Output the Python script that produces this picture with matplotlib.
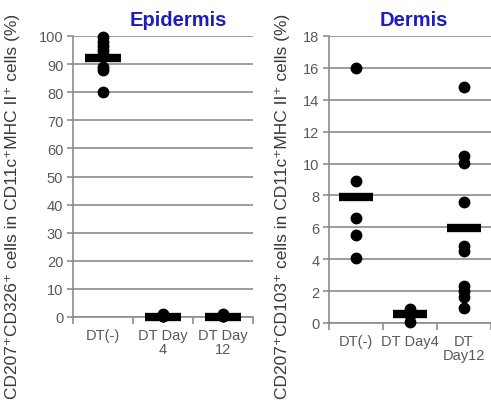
import numpy as np
import matplotlib
matplotlib.use('Agg')
import matplotlib.pyplot as plt

# Epidermis data (% CD207+CD326+)
epi_groups = ['DT(-)', 'DT Day\n4', 'DT Day\n12']
epi_points = [
    [99.5, 98, 96.5, 95, 93.5, 89, 88, 80],
    [0.2, 0.5, 1.0, 0.3],
    [0.2, 0.5, 1.0, 0.3],
]
epi_means = [92, 0, 0]

# Dermis data (% CD207+CD103+)
der_groups = ['DT(-)', 'DT Day4', 'DT\nDay12']
der_points = [
    [16.0, 8.9, 6.6, 5.5, 4.1],
    [0.9, 0.5, 0.05],
    [14.8, 10.5, 10.05, 7.6, 4.85, 4.5, 2.3, 2.0, 1.6, 0.95],
]
der_means = [7.9, 0.55, 5.95]

plt.rcParams['font.family'] = ['Liberation Sans', 'DejaVu Sans']

GRID = '#8c8c8c'
TICK = '#595959'
TITLE = '#1c1cc0'

fig = plt.figure(figsize=(4.91, 4.02), dpi=100)
ax1 = fig.add_axes([73 / 491, 1 - 318 / 402, 180 / 491, 281 / 402])
ax2 = fig.add_axes([329 / 491, 1 - 324 / 402, 162 / 491, 287 / 402])


def draw_panel(ax, groups, points, means, ymax, ystep, halfwidth):
    pos = np.arange(len(groups))
    for i, vals in enumerate(points):
        ax.plot([pos[i]] * len(vals), vals, 'o', color='black', ms=7.5,
                zorder=3, clip_on=False)
    ax.hlines(means, pos - halfwidth, pos + halfwidth, colors='black',
              lw=6, zorder=4, clip_on=False)
    ax.set_xlim(-0.5, len(groups) - 0.5)
    ax.set_ylim(0, ymax)
    ax.set_yticks(np.arange(0, ymax + ystep / 2, ystep))
    ax.set_xticks(pos)
    ax.set_xticklabels(groups, linespacing=0.95)
    ax.set_xticks(np.arange(len(groups) + 1) - 0.5, minor=True)
    ax.tick_params(axis='x', which='major', length=0, pad=8,
                   labelsize=10.5, labelcolor=TICK)
    ax.tick_params(axis='x', which='minor', length=5, color=GRID, width=1.2)
    ax.tick_params(axis='y', length=4, color=GRID, width=1.2, pad=3,
                   labelsize=10.5, labelcolor=TICK)
    ax.grid(axis='y', color=GRID, lw=1.2)
    ax.set_axisbelow(True)
    for s in ['top', 'right']:
        ax.spines[s].set_visible(False)
    for s in ['left', 'bottom']:
        ax.spines[s].set_color(GRID)
        ax.spines[s].set_linewidth(1.2)


draw_panel(ax1, epi_groups, epi_points, epi_means, 100, 10, 0.3)
draw_panel(ax2, der_groups, der_points, der_means, 18, 2, 0.32)

fig.text(178 / 491, 1 - 20 / 402, 'Epidermis', ha='center', va='center',
         fontsize=14.5, fontweight='bold', color=TITLE)
fig.text(414 / 491, 1 - 20 / 402, 'Dermis', ha='center', va='center',
         fontsize=14.5, fontweight='bold', color=TITLE)

fig.text(13 / 491, 1 - 206 / 402, 'CD207\u207aCD326\u207a cells in CD11c\u207aMHC II\u207a cells (%)',
         rotation=90, ha='center', va='center', fontsize=12.5, color='#3a3a3a')
fig.text(282 / 491, 1 - 206 / 402, 'CD207\u207aCD103\u207a cells in CD11c\u207aMHC II\u207a cells (%)',
         rotation=90, ha='center', va='center', fontsize=12.5, color='#3a3a3a')

fig.savefig('out.png', dpi=100)
